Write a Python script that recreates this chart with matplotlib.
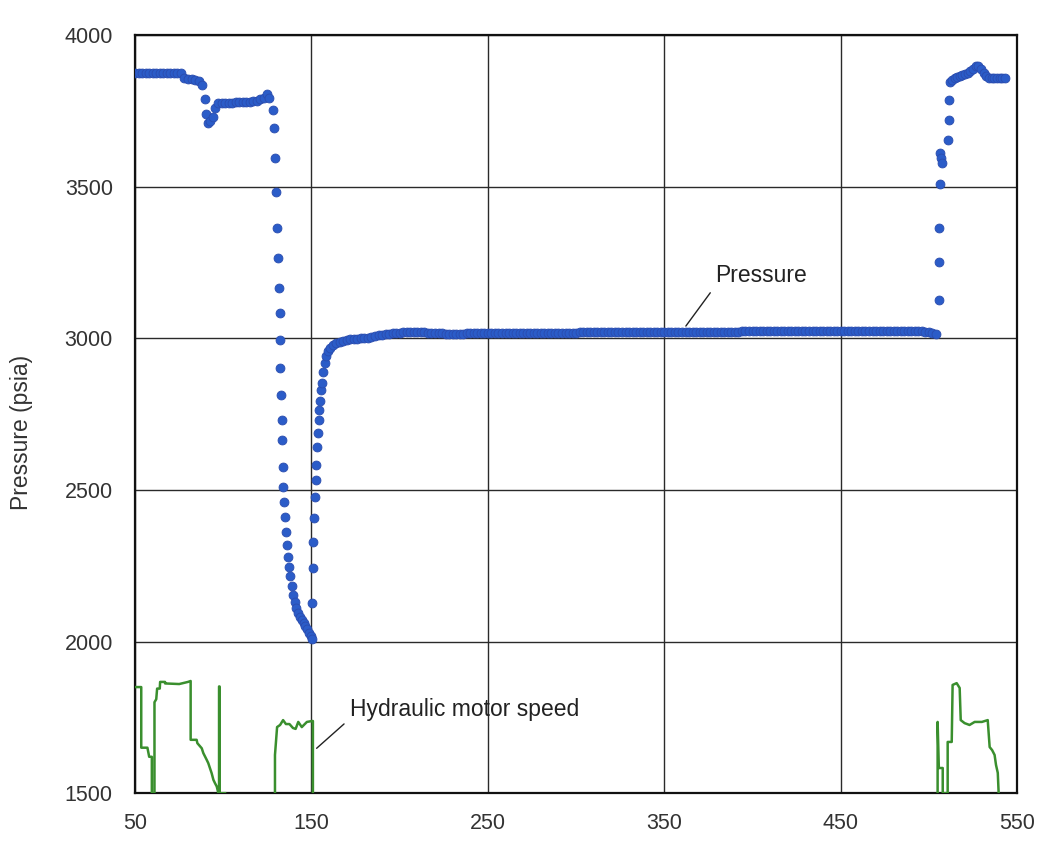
import numpy as np
import matplotlib
matplotlib.use("Agg")
from matplotlib import pyplot as plt

plt.rcParams['font.family'] = ['Liberation Sans', 'DejaVu Sans']

# ---- pressure samples (time, psia) ----
# dense start, sampled every 2 time units
start_t = list(range(50, 88, 2))
start_psi = [3875, 3875, 3875, 3875, 3875, 3875, 3875, 3875, 3875, 3875,
             3875, 3875, 3875, 3875, 3858, 3855, 3855, 3852, 3850]

# dip near t=90, plateau and the fast drop to ~2000
drop_t = [88, 89.5, 90.3, 91.3, 92.5, 94, 95.5, 97,
          99, 101, 103, 105, 107, 109, 111, 113, 115, 117,
          119, 121, 123, 124.5, 126, 128.2, 128.8, 129.3, 129.9,
          130.2, 131.1, 131.3, 132.0, 132.2, 132.4, 132.8, 133.0, 133.4, 133.6, 134.0,
          134.4, 135, 135.6, 136.2, 136.8, 137.4, 138, 138.8, 139.6, 140.5,
          141.5, 142.5, 143.5, 144.6, 145.6, 146.6, 147.6, 148.6, 149.5, 150.3]
drop_psi = [3835, 3790, 3740, 3712, 3718, 3732, 3760, 3776,
            3776, 3777, 3778, 3778, 3779, 3779, 3780, 3780, 3781, 3782,
            3785, 3790, 3795, 3805, 3795, 3753, 3693, 3594, 3482,
            3364, 3265, 3166, 3083, 2994, 2902, 2813, 2731, 2665, 2576, 2510,
            2460, 2410, 2360, 2320, 2280, 2245, 2215, 2185, 2155, 2130,
            2110, 2095, 2082, 2070, 2060, 2050, 2040, 2030, 2020, 2010]

# recovery back to ~3000
rise_t = [150.5, 150.7, 150.9, 151.3, 151.8, 152.3, 152.8, 153.3, 153.7, 154.0,
          154.2, 154.7, 155.3, 155.9, 156.7, 157.6, 158.5, 159.5, 160.5, 162,
          164, 166, 168, 170, 172, 174, 176, 178, 180]
rise_psi = [2127, 2243, 2328, 2407, 2477, 2533, 2582, 2641, 2687, 2730,
            2764, 2795, 2830, 2853, 2888, 2919, 2942, 2960, 2968, 2977,
            2984, 2988, 2992, 2995, 2997, 2998, 2999, 3000, 3001]

# long plateau, sampled every 2 time units from t=182 to t=504
flat_t = list(range(182, 506, 2))
flat_psi = [3003, 3005, 3008, 3010, 3012, 3014, 3016, 3017, 3018, 3019,
            3020, 3021, 3021, 3022, 3022, 3021, 3020, 3019, 3018, 3018,
            3017, 3017, 3016, 3016, 3016, 3016, 3016, 3016, 3017, 3017,
            3017, 3017, 3017, 3017, 3017, 3017, 3017, 3017, 3018, 3018,
            3018, 3018, 3018, 3018, 3018, 3018, 3018, 3018, 3018, 3018,
            3018, 3018, 3019, 3019, 3019, 3019, 3019, 3019, 3019, 3019,
            3020, 3020, 3020, 3020, 3020, 3020, 3020, 3020, 3020, 3020,
            3020, 3020, 3021, 3021, 3021, 3021, 3021, 3021, 3021, 3021,
            3021, 3021, 3022, 3022, 3022, 3022, 3022, 3022, 3022, 3022,
            3022, 3022, 3022, 3022, 3023, 3023, 3023, 3023, 3023, 3023,
            3023, 3023, 3023, 3023, 3023, 3023, 3024, 3024, 3024, 3024,
            3024, 3024, 3024, 3024, 3024, 3024, 3024, 3024, 3024, 3024,
            3025, 3025, 3025, 3025, 3025, 3025, 3025, 3025, 3025, 3025,
            3025, 3025, 3025, 3025, 3025, 3025, 3025, 3025, 3025, 3025,
            3025, 3025, 3025, 3025, 3025, 3025, 3025, 3025, 3025, 3025,
            3025, 3025, 3025, 3025, 3024, 3024, 3024, 3024, 3022, 3020,
            3018, 3016]

# final jump back up
end_t = [505.8, 505.8, 505.8, 506.5, 506.3, 507.0, 507.6, 510.8, 511.3, 511.5, 511.8,
         513, 514.5, 516, 517.5, 519, 520.5, 522, 523.5, 525, 526.5,
         528, 529.5, 531, 532.5, 534, 535.5, 537, 538.5, 540, 541.5, 543]
end_psi = [3126, 3252, 3363, 3511, 3612, 3595, 3580, 3654, 3722, 3786, 3846,
           3852, 3858, 3862, 3866, 3870, 3873, 3877, 3882, 3890, 3898,
           3898, 3888, 3876, 3866, 3860, 3858, 3858, 3858, 3858, 3858, 3858]

pressure_t = start_t + drop_t + rise_t + flat_t + end_t
pressure_psi = start_psi + drop_psi + rise_psi + flat_psi + end_psi

# ---- hydraulic motor speed trace, in chart units ----
motor_t = [50, 53.5, 53.5, 57, 58, 59.5, 59.5, 61, 61, 62, 62.5, 64, 64.2, 67,
           67, 75, 80, 81.5, 81.5, 84.9, 85.3, 87.8, 88.7, 90.6, 91.5, 93.4,
           94.4, 95.3, 96.3, 97.2, 97.6, 97.6, 97.9, 97.9, 101,
           np.nan,
           129.3, 129.3, 130.5, 132.2, 133.9, 135.5, 137.5, 139.5, 141, 142.5,
           144.5, 147.4, 150.3, 150.8, 150.8,
           np.nan,
           504.9, 504.9, 505.6, 507.8, 507.8, 510.6, 510.6, 512.9, 513.4, 515.7,
           517.4, 518, 520.2, 523, 525.9, 530, 533.3, 534.4, 535.8, 537.2,
           538, 539, 539.5]
motor_val = [1850, 1850, 1650, 1650, 1620, 1620, 1500, 1500, 1800, 1810, 1845, 1845, 1867, 1867,
             1862, 1860, 1867, 1870, 1676, 1676, 1665, 1648, 1632, 1610, 1599, 1566,
             1544, 1533, 1522, 1500, 1500, 1852, 1852, 1500, 1500,
             np.nan,
             1500, 1626, 1718, 1725, 1741, 1728, 1728, 1715, 1712, 1735,
             1718, 1735, 1738, 1738, 1500,
             np.nan,
             1500, 1735, 1583, 1583, 1500, 1500, 1669, 1669, 1857, 1863,
             1847, 1741, 1731, 1725, 1735, 1735, 1741, 1652, 1642, 1626,
             1593, 1567, 1500]

x_ticks = [50, 150, 250, 350, 450, 550]
y_ticks = [1500, 2000, 2500, 3000, 3500, 4000]

fig = plt.figure(figsize=(10.39, 8.42), dpi=100)
ax = fig.add_axes([0.130, 0.058, 0.849, 0.900])

ax.plot(motor_t, motor_val, color='#3a8f2e', lw=1.8, zorder=3)
ax.plot(pressure_t, pressure_psi, 'o', color='#2b5cc8', ms=6.4, mec='#2a4cae',
        mew=0.6, zorder=4)

ax.set_xlim(50, 550)
ax.set_ylim(1500, 4000)
ax.set_xticks(x_ticks)
ax.set_yticks(y_ticks)
ax.grid(True, color='#2a2a2a', lw=1.0)
ax.set_axisbelow(True)
ax.tick_params(length=0, labelsize=15.5, labelcolor='#333333')
ax.tick_params(axis='y', pad=16)
ax.tick_params(axis='x', pad=14)
for s in ax.spines.values():
    s.set_linewidth(1.6)
    s.set_color('#111111')

fig.text(0.021, 0.486, 'Pressure (psia)', rotation=90, ha='center', va='center',
         fontsize=16.5, color='#333333')

ax.annotate('Pressure', xy=(362.2, 3041), xytext=(378.6, 3209),
            fontsize=16.5, color='#222222', va='center', ha='left',
            arrowprops=dict(arrowstyle='-', color='#222222', lw=1.0,
                            relpos=(0, 0), shrinkA=3, shrinkB=0))
ax.annotate('Hydraulic motor speed', xy=(152.9, 1648), xytext=(171.8, 1776),
            fontsize=16.5, color='#222222', va='center', ha='left',
            arrowprops=dict(arrowstyle='-', color='#222222', lw=1.0,
                            relpos=(0, 0.1), shrinkA=3, shrinkB=0))

fig.savefig('out.png', dpi=100)
